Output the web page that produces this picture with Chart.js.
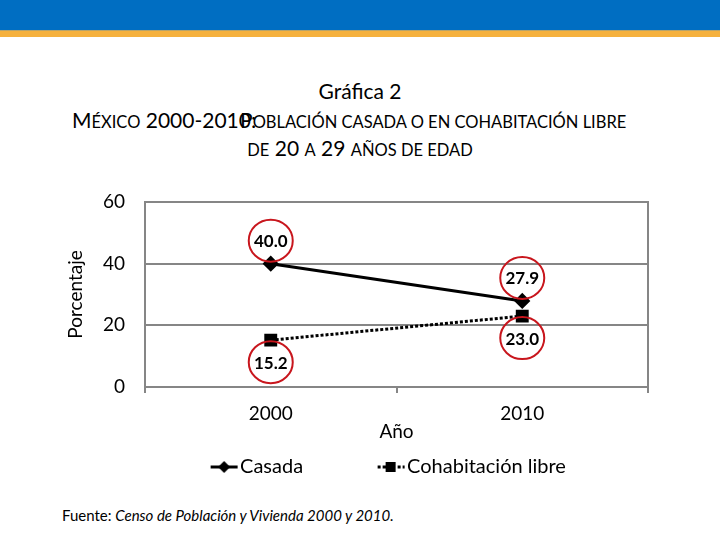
<!DOCTYPE html>
<html lang="es">

<head>
    <meta charset="UTF-8">
    <title>Gráfica 2</title>
    <script src="https://cdn.jsdelivr.net/npm/chart.js"></script>
    <style>
        body { margin: 0; width: 720px; height: 540px; position: relative; background: #fff; font-family: Lato, "Open Sans", sans-serif; overflow: hidden; }
        #band { position: absolute; left: 0; top: 0; width: 720px; height: 30px; background: #006ec2; }
        #stripe { position: absolute; left: 0; top: 30px; width: 720px; height: 6px; background: #f5b13e; border-top: 1px solid #b7a36a; }
        .t { position: absolute; white-space: nowrap; color: #000; }
        .s { font-size: 16.5px; }
        #t1 { left: 0; width: 720px; text-align: center; top: 78px; font-size: 21px; }
        #t2a { left: 72px; top: 107px; font-size: 21px; }
        #t2b { left: 240px; top: 107px; font-size: 21px; }
        #t3 { left: 0; width: 720px; text-align: center; top: 135px; font-size: 21px; }
        #src { left: 62px; top: 506px; font-size: 15px; }
        canvas { position: absolute; left: 0; top: 0; }
    </style>
</head>

<body>
    <div id="band"></div>
    <div id="stripe"></div>
    <div class="t" id="t1">Gráfica 2</div>
    <div class="t" id="t2a">M<span class="s">ÉXICO</span> 2000-2010:</div>
    <div class="t" id="t2b">P<span class="s">OBLACIÓN CASADA O EN COHABITACIÓN LIBRE</span></div>
    <div class="t" id="t3"><span class="s">DE</span> 20 <span class="s">A</span> 29 <span class="s">AÑOS DE EDAD</span></div>
    <div class="t" id="src">Fuente: <i>Censo de Población y Vivienda 2000 y 2010.</i></div>
    <canvas id="chart" width="720" height="540"></canvas>

    <script>
        const years = ['2000', '2010'];
        const casada = [40.0, 27.9];
        const cohabitacion = [15.2, 23.0];
        const seriesNames = ['Casada', 'Cohabitación libre'];
        const yTicks = [0, 20, 40, 60];

        const grey = '#868686';

        // legend icon: line with marker, drawn at the right end of a wider transparent canvas
        function makeIcon(dashed, square) {
            const c = document.createElement('canvas');
            c.width = 101; c.height = 16;
            const g = c.getContext('2d');
            g.strokeStyle = '#000';
            g.fillStyle = '#000';
            g.lineWidth = 3;
            if (dashed) g.setLineDash([3, 2]);
            g.beginPath();
            g.moveTo(73, 8);
            g.lineTo(100, 8);
            g.stroke();
            if (square) {
                g.fillRect(81, 3, 10, 10);
            } else {
                g.beginPath();
                g.moveTo(86.5, 2); g.lineTo(92.5, 8); g.lineTo(86.5, 14); g.lineTo(80.5, 8);
                g.closePath(); g.fill();
            }
            return c;
        }
        const legendIcons = [makeIcon(false, false), makeIcon(true, true)];

        // value labels inside red circles
        const circleLabels = {
            id: 'circleLabels',
            afterDatasetsDraw(chart) {
                const ctx = chart.ctx;
                ctx.save();
                chart.data.datasets.forEach((ds, i) => {
                    const meta = chart.getDatasetMeta(i);
                    meta.data.forEach((pt, j) => {
                        const cy = pt.y + ds.labelShift;
                        ctx.beginPath();
                        ctx.ellipse(pt.x, cy, 22, 21, 0, 0, Math.PI * 2);
                        ctx.strokeStyle = '#c8161d';
                        ctx.lineWidth = 2;
                        ctx.stroke();
                        ctx.fillStyle = '#000';
                        ctx.font = 'bold 17px Lato, sans-serif';
                        ctx.textAlign = 'center';
                        ctx.textBaseline = 'middle';
                        ctx.fillText(ds.data[j].toFixed(1), pt.x, cy + 1);
                    });
                });
                ctx.restore();
            }
        };

        const ctx = document.getElementById('chart').getContext('2d');
        new Chart(ctx, {
            type: 'line',
            data: {
                labels: years,
                datasets: [{
                    label: seriesNames[0],
                    data: casada,
                    borderColor: '#000',
                    backgroundColor: '#000',
                    borderWidth: 3,
                    pointStyle: 'rectRot',
                    pointRadius: 6,
                    labelShift: -23
                }, {
                    label: seriesNames[1],
                    data: cohabitacion,
                    borderColor: '#000',
                    backgroundColor: '#000',
                    borderWidth: 3,
                    borderDash: [3, 2],
                    pointStyle: 'rect',
                    pointRadius: 7,
                    labelShift: 22
                }]
            },
            options: {
                responsive: false,
                animation: false,
                layout: { padding: { top: 202, left: 0, right: 8, bottom: 53 } },
                plugins: {
                    tooltip: { enabled: false },
                    legend: {
                        position: 'bottom',
                        labels: {
                            usePointStyle: true,
                            pointStyleWidth: 84,
                            padding: 10,
                            color: '#000',
                            font: { family: 'Lato', size: 20 },
                            generateLabels: chart => chart.data.datasets.map((ds, i) => ({
                                text: ds.label,
                                pointStyle: legendIcons[i],
                                fontColor: '#000',
                                fillStyle: 'transparent',
                                strokeStyle: 'transparent',
                                lineWidth: 0,
                                hidden: false,
                                datasetIndex: i
                            }))
                        }
                    }
                },
                scales: {
                    x: {
                        offset: true,
                        afterFit: s => { s.height = 60; },
                        grid: { offset: true, drawOnChartArea: false, drawTicks: true, tickLength: 6, color: grey, lineWidth: 2 },
                        border: { color: grey, width: 2 },
                        ticks: { color: '#000', padding: 9, font: { family: 'Lato', size: 19 } },
                        title: { display: true, text: 'Año', color: '#000', padding: { top: 0, bottom: 4 }, font: { family: 'Lato', size: 19 } }
                    },
                    y: {
                        min: 0,
                        max: 60,
                        afterFit: s => { s.width = 145; },
                        afterBuildTicks: s => { s.ticks = yTicks.map(v => ({ value: v })); },
                        grid: { drawTicks: false, color: grey, lineWidth: 2 },
                        border: { color: grey, width: 2 },
                        ticks: { color: '#000', padding: 20, font: { family: 'Lato', size: 19 } },
                        title: { display: true, text: 'Porcentaje', color: '#000', padding: { top: 64, bottom: 0 }, font: { family: 'Lato', size: 19 } }
                    },
                    y2: {
                        position: 'right',
                        min: 0,
                        max: 60,
                        afterFit: s => { s.width = 64; },
                        grid: { drawOnChartArea: false, drawTicks: false },
                        border: { color: grey, width: 2 },
                        ticks: { display: false }
                    }
                }
            },
            plugins: [circleLabels]
        });
    </script>
</body>

</html>
